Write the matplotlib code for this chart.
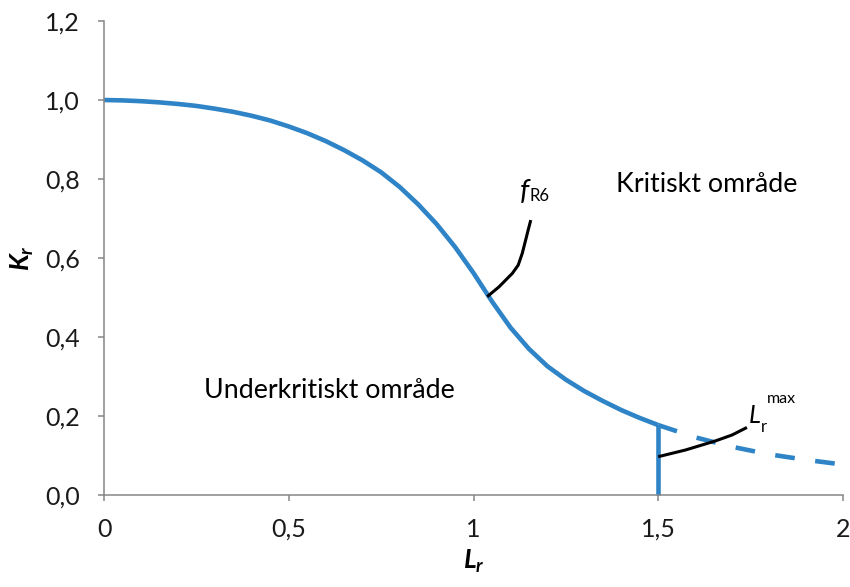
import numpy as np
import matplotlib.pyplot as plt

# Failure assessment curve
lr_solid = [0.0, 0.05, 0.1, 0.15, 0.2, 0.25, 0.3, 0.35, 0.4, 0.45, 0.5, 0.55,
            0.6, 0.65, 0.7, 0.75, 0.8, 0.85, 0.9, 0.95, 1.0, 1.05, 1.1, 1.15,
            1.2, 1.25, 1.3, 1.35, 1.4, 1.45, 1.5]
kr_solid = [1.000, 0.999, 0.997, 0.994, 0.990, 0.985, 0.978, 0.970, 0.960,
            0.948, 0.933, 0.916, 0.896, 0.873, 0.847, 0.817, 0.780, 0.736,
            0.686, 0.628, 0.562, 0.490, 0.424, 0.370, 0.326, 0.292, 0.263,
            0.238, 0.215, 0.195, 0.177]

# Continuation beyond Lr,max
lr_dash = [1.5, 1.6, 1.7, 1.8, 1.9, 2.0]
kr_dash = [0.177, 0.146, 0.122, 0.103, 0.089, 0.077]

# Cut-off at Lr,max
lr_max = 1.5
kr_cut = [0.0, 0.177]

# Leader lines for the labels
lead_f_x = [1.037, 1.069, 1.105, 1.121, 1.132, 1.141, 1.148, 1.155]
lead_f_y = [0.502, 0.527, 0.561, 0.582, 0.612, 0.645, 0.671, 0.696]
lead_l_x = [1.50, 1.574, 1.655, 1.70, 1.74]
lead_l_y = [0.097, 0.114, 0.137, 0.152, 0.171]

x_ticks = [0, 0.5, 1, 1.5, 2]
x_ticklabels = ['0', '0,5', '1', '1,5', '2']
y_ticks = [0.0, 0.2, 0.4, 0.6, 0.8, 1.0, 1.2]
y_ticklabels = ['0,0', '0,2', '0,4', '0,6', '0,8', '1,0', '1,2']

blue = '#2E84C6'
grey = '#868686'

plt.rcParams['font.family'] = ['Lato', 'DejaVu Sans']
plt.rcParams['mathtext.fontset'] = 'custom'
plt.rcParams['mathtext.it'] = 'Lato:italic:bold'
plt.rcParams['mathtext.rm'] = 'Lato:bold'

fig = plt.figure(figsize=(8.5, 5.87), dpi=100)
ax = fig.add_axes([104 / 850, 92 / 587, 739 / 850, 474 / 587])

ax.plot(lr_solid, kr_solid, color=blue, lw=3.3, solid_capstyle='butt',
        solid_joinstyle='round', clip_on=False)
ax.plot(lr_dash, kr_dash, color=blue, lw=3.3, linestyle=(0, (4.3, 4.5)),
        dash_capstyle='butt', clip_on=False)
ax.plot([lr_max, lr_max], kr_cut, color=blue, lw=3.3, solid_capstyle='butt', clip_on=False)

ax.plot(lead_f_x, lead_f_y, color='black', lw=2.2, solid_capstyle='butt',
        solid_joinstyle='round')
ax.plot(lead_l_x, lead_l_y, color='black', lw=2.2, solid_capstyle='butt',
        solid_joinstyle='round')

# labels
ax.text(1.63, 0.768, 'Kritiskt område', ha='center', va='baseline', fontsize=19.3)
ax.text(0.609, 0.245, 'Underkritiskt område', ha='center', va='baseline', fontsize=19.3)
ax.text(1.125, 0.748, 'f', style='italic', ha='left', va='baseline', fontsize=21)
ax.text(1.152, 0.745, 'R6', ha='left', va='baseline', fontsize=12)
ax.text(1.745, 0.183, 'L', style='italic', ha='left', va='baseline', fontsize=18)
ax.text(1.777, 0.160, 'r', ha='left', va='baseline', fontsize=12)
ax.text(1.793, 0.232, 'max', ha='left', va='baseline', fontsize=11.5)

ax.set_xlim(0, 2)
ax.set_ylim(0, 1.2)
ax.set_xticks(x_ticks)
ax.set_xticklabels(x_ticklabels)
ax.set_yticks(y_ticks)
ax.set_yticklabels(y_ticklabels)

for side in ['top', 'right']:
    ax.spines[side].set_visible(False)
for side in ['left', 'bottom']:
    ax.spines[side].set_color(grey)
    ax.spines[side].set_linewidth(1.1)
ax.tick_params(axis='both', colors=grey, width=1.1, length=4.5, labelsize=18,
               labelcolor='#1a1a1a')
ax.tick_params(axis='y', pad=13)
ax.tick_params(axis='x', pad=12)

ax.set_xlabel('$L_r$', fontsize=19, labelpad=5)
ax.set_ylabel('$K_r$', fontsize=19, labelpad=6)

fig.savefig('out.png', dpi=100)
